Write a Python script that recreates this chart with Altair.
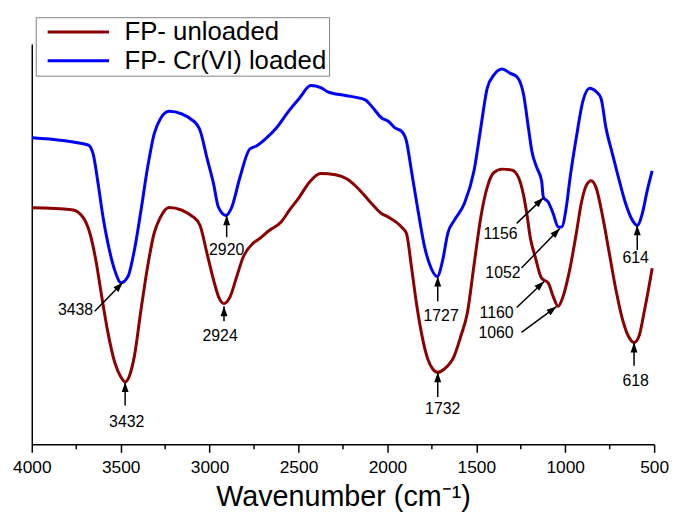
import math
import altair as alt
import pandas as pd

# ---- data (wavenumber in cm-1, transmittance in arbitrary units) ----
series_names = ["FP- unloaded", "FP- Cr(VI) loaded"]
series_colors = ["#8B0000", "#0000FF"]

red_wn = [3998, 3776, 3720, 3673, 3637, 3610, 3572, 3534, 3499, 3475, 3451, 3423, 3388, 3349,
          3312, 3277, 3228, 3089, 3054, 3015, 2978, 2950, 2919, 2887, 2848, 2811, 2755, 2718,
          2663, 2598, 2552, 2496, 2440, 2375, 2292, 2227, 2162, 2088, 2032, 1995, 1921, 1893,
          1865, 1837, 1809, 1773, 1745, 1717, 1680, 1624, 1587, 1550, 1513, 1475, 1439, 1401,
          1355, 1300, 1262, 1234, 1216, 1197, 1169, 1133, 1095, 1068, 1040, 1012, 975, 938,
          910, 882, 854, 827, 789, 752, 715, 678, 641, 613, 585, 557, 529, 511]
red_t = [245.7, 243.7, 238, 220, 190, 160, 120, 90, 75, 70, 76, 96, 140, 186,
         220, 236, 246, 236, 228, 200, 173, 156, 149, 155, 176, 196, 210, 214.7,
         223, 231.3, 243, 256.3, 271.3, 280.3, 279, 274.7, 264.7, 249.7, 239.7, 236.3, 226.3, 219.7,
         186.3, 149.7, 119.7, 93, 83, 79.7, 83, 96.3, 116.3, 140, 188, 236, 266.3, 281.3,
         284.7, 283.7, 276, 258, 239.7, 216, 196.3, 174.7, 169.7, 156.3, 146.3, 156.3, 183, 219.7,
         250, 268, 273, 266.3, 236.3, 199.7, 163, 133, 114.7, 109.7, 116.3, 139.7, 166.3, 184.7]

blue_wn = [3998, 3683, 3655, 3627, 3599, 3572, 3534, 3498, 3460, 3423, 3386, 3349, 3312, 3275,
           3228, 3089, 3052, 3015, 2978, 2950, 2908, 2876, 2830, 2774, 2737, 2681, 2626, 2552,
           2496, 2431, 2375, 2338, 2236, 2125, 2088, 2032, 1995, 1958, 1921, 1893, 1865, 1828,
           1791, 1754, 1720, 1689, 1661, 1624, 1568, 1513, 1475, 1439, 1401, 1355, 1308, 1272,
           1234, 1207, 1188, 1160, 1133, 1123, 1095, 1068, 1040, 1021, 994, 975, 938, 901,
           863, 827, 799, 771, 734, 696, 660, 622, 595, 567, 539, 511]
blue_t = [316.3, 309, 300, 270, 236, 210, 183, 170, 176, 203, 243, 286, 320, 336,
          343, 333, 323, 296, 270, 246, 238, 246, 276, 305, 308, 316, 326, 344,
          356, 369, 367, 363, 359, 354.7, 348, 336.3, 333, 326.3, 323, 313, 283, 243,
          206.3, 184.7, 176.3, 193, 219.7, 233, 249.7, 283, 326.3, 366.3, 379.7, 385.7, 381.3, 378,
          359.7, 326.3, 303, 286.3, 273, 256.3, 251.3, 240, 226.3, 226.3, 246.3, 273, 316.3, 353,
          366.3, 363, 356.3, 326.3, 299.7, 273, 249.7, 233, 228, 239.7, 263, 283]

x_ticks = [4000, 3500, 3000, 2500, 2000, 1500, 1000, 500]
x_minor = [3750, 3250, 2750, 2250, 1750, 1250, 750]

# peak annotations: label, label position, alignment, arrow start and arrow tip
ann_text = ["3432", "3438", "2924", "2920", "1732", "1727", "1156", "1052", "1160", "1060", "614", "618"]
ann_lx = [3466, 3655, 2941, 2904, 1689, 1698, 1268, 1251, 1290, 1290, 604, 604]
ann_ly = [29.7, 143, 116.3, 203, 43, 136.3, 219.7, 179.7, 139.7, 119.7, 194.7, 71.3]
ann_align = ["center", "right", "center", "center", "center", "center",
             "right", "right", "right", "right", "center", "center"]
arr_x1 = [3475, 3646, 2919, 2904, 1717, 1717, 1273, 1246, 1273, 1246, 595, 613]
arr_y1 = [46.3, 141.3, 131.3, 216, 54.7, 151.3, 230, 185, 145, 120, 203, 86.3]
arr_x2 = [3475, 3488, 2919, 2904, 1717, 1717, 1123, 1030, 1119, 1049, 595, 613]
arr_y2 = [69.7, 170.3, 146.3, 238, 79.7, 176.3, 255.7, 224.7, 171.3, 146, 228, 109.7]

# ---- layout ----
W, H = 628, 404
X_DOMAIN = [4000, 500]
Y_DOMAIN = [7, 411]
FONT = "Liberation Sans"

spec_df = pd.concat([
    pd.DataFrame({"series": series_names[0], "wn": red_wn, "t": red_t}),
    pd.DataFrame({"series": series_names[1], "wn": blue_wn, "t": blue_t}),
], ignore_index=True)

kx = W / abs(X_DOMAIN[0] - X_DOMAIN[1])
ky = H / abs(Y_DOMAIN[1] - Y_DOMAIN[0])
angles = []
for a, b, c, d in zip(arr_x1, arr_y1, arr_x2, arr_y2):
    dx = (a - c) * kx
    dy = (d - b) * ky
    angles.append(math.degrees(math.atan2(dx, dy)) % 360)

ann_df = pd.DataFrame({
    "label": ann_text, "lx": ann_lx, "ly": ann_ly, "align": ann_align,
    "x1": arr_x1, "y1": arr_y1, "x2": arr_x2, "y2": arr_y2, "ang": angles,
})
minor_df = pd.DataFrame({"wn": x_minor})

xscale = alt.Scale(domain=X_DOMAIN, nice=False, zero=False)
yscale = alt.Scale(domain=Y_DOMAIN, nice=False, zero=False)

lines = alt.Chart(spec_df).mark_line(strokeWidth=3, interpolate="monotone", strokeJoin="round").encode(
    x=alt.X("wn:Q", scale=xscale, axis=alt.Axis(
        values=x_ticks, format="d", title="Wavenumber (cm⁻¹)",
        titleFontSize=29, titleFontWeight="normal", titleColor="black",
        titleBaseline="alphabetic", titleY=62,
        labelFontSize=17.5, labelColor="black", labelPadding=6, labelFlush=False, labelOverlap=False,
        tickSize=8, tickWidth=1.5, tickColor="black",
        domainColor="black", domainWidth=1.5, grid=False)),
    y=alt.Y("t:Q", scale=yscale, axis=alt.Axis(
        title=None, labels=False, ticks=False, grid=False,
        domainColor="black", domainWidth=1.5)),
    color=alt.Color("series:N", scale=alt.Scale(domain=series_names, range=series_colors),
                    legend=alt.Legend(
                        title=None, orient="none", legendX=4, legendY=-27, direction="vertical",
                        symbolType="stroke", symbolSize=3844, symbolStrokeWidth=3,
                        symbolOffset=8.5, labelOffset=14, clipHeight=26, rowPadding=3,
                        padding=2, strokeColor="#808080", labelFontSize=26,
                        labelFont=FONT, labelColor="black", labelLimit=400)),
)

minor = alt.Chart(minor_df).mark_rule(color="black", strokeWidth=1.5).encode(
    x=alt.X("wn:Q", scale=xscale),
    y=alt.value(H),
    y2=alt.value(H + 5),
)

shafts = alt.Chart(ann_df).mark_rule(color="black", strokeWidth=1.5).encode(
    x=alt.X("x1:Q", scale=xscale),
    x2="x2:Q",
    y=alt.Y("y1:Q", scale=yscale),
    y2="y2:Q",
)

heads = alt.Chart(ann_df).mark_point(
    shape="M0,0L-0.35,1L0.35,1Z", filled=True, size=400, color="black", opacity=1, strokeWidth=0
).encode(
    x=alt.X("x2:Q", scale=xscale),
    y=alt.Y("y2:Q", scale=yscale),
    angle=alt.Angle("ang:Q", scale=None),
)

text_c = alt.Chart(ann_df).transform_filter(alt.datum.align == "center").mark_text(
    font=FONT, fontSize=16, align="center", baseline="middle", color="black"
).encode(
    x=alt.X("lx:Q", scale=xscale),
    y=alt.Y("ly:Q", scale=yscale),
    text="label:N",
)

text_r = alt.Chart(ann_df).transform_filter(alt.datum.align == "right").mark_text(
    font=FONT, fontSize=16, align="right", baseline="middle", color="black"
).encode(
    x=alt.X("lx:Q", scale=xscale),
    y=alt.Y("ly:Q", scale=yscale),
    text="label:N",
)

chart = alt.layer(lines, minor, shafts, heads, text_c, text_r).properties(
    width=W, height=H,
    autosize=alt.AutoSizeParams(type="none"),
    padding={"left": 24, "top": 34, "right": 16, "bottom": 68},
).configure_view(strokeWidth=0).configure_axis(
    labelFont=FONT, titleFont=FONT
).configure_legend(labelFont=FONT)

chart.save("out.html", embed_options={"renderer": "svg", "actions": False})
